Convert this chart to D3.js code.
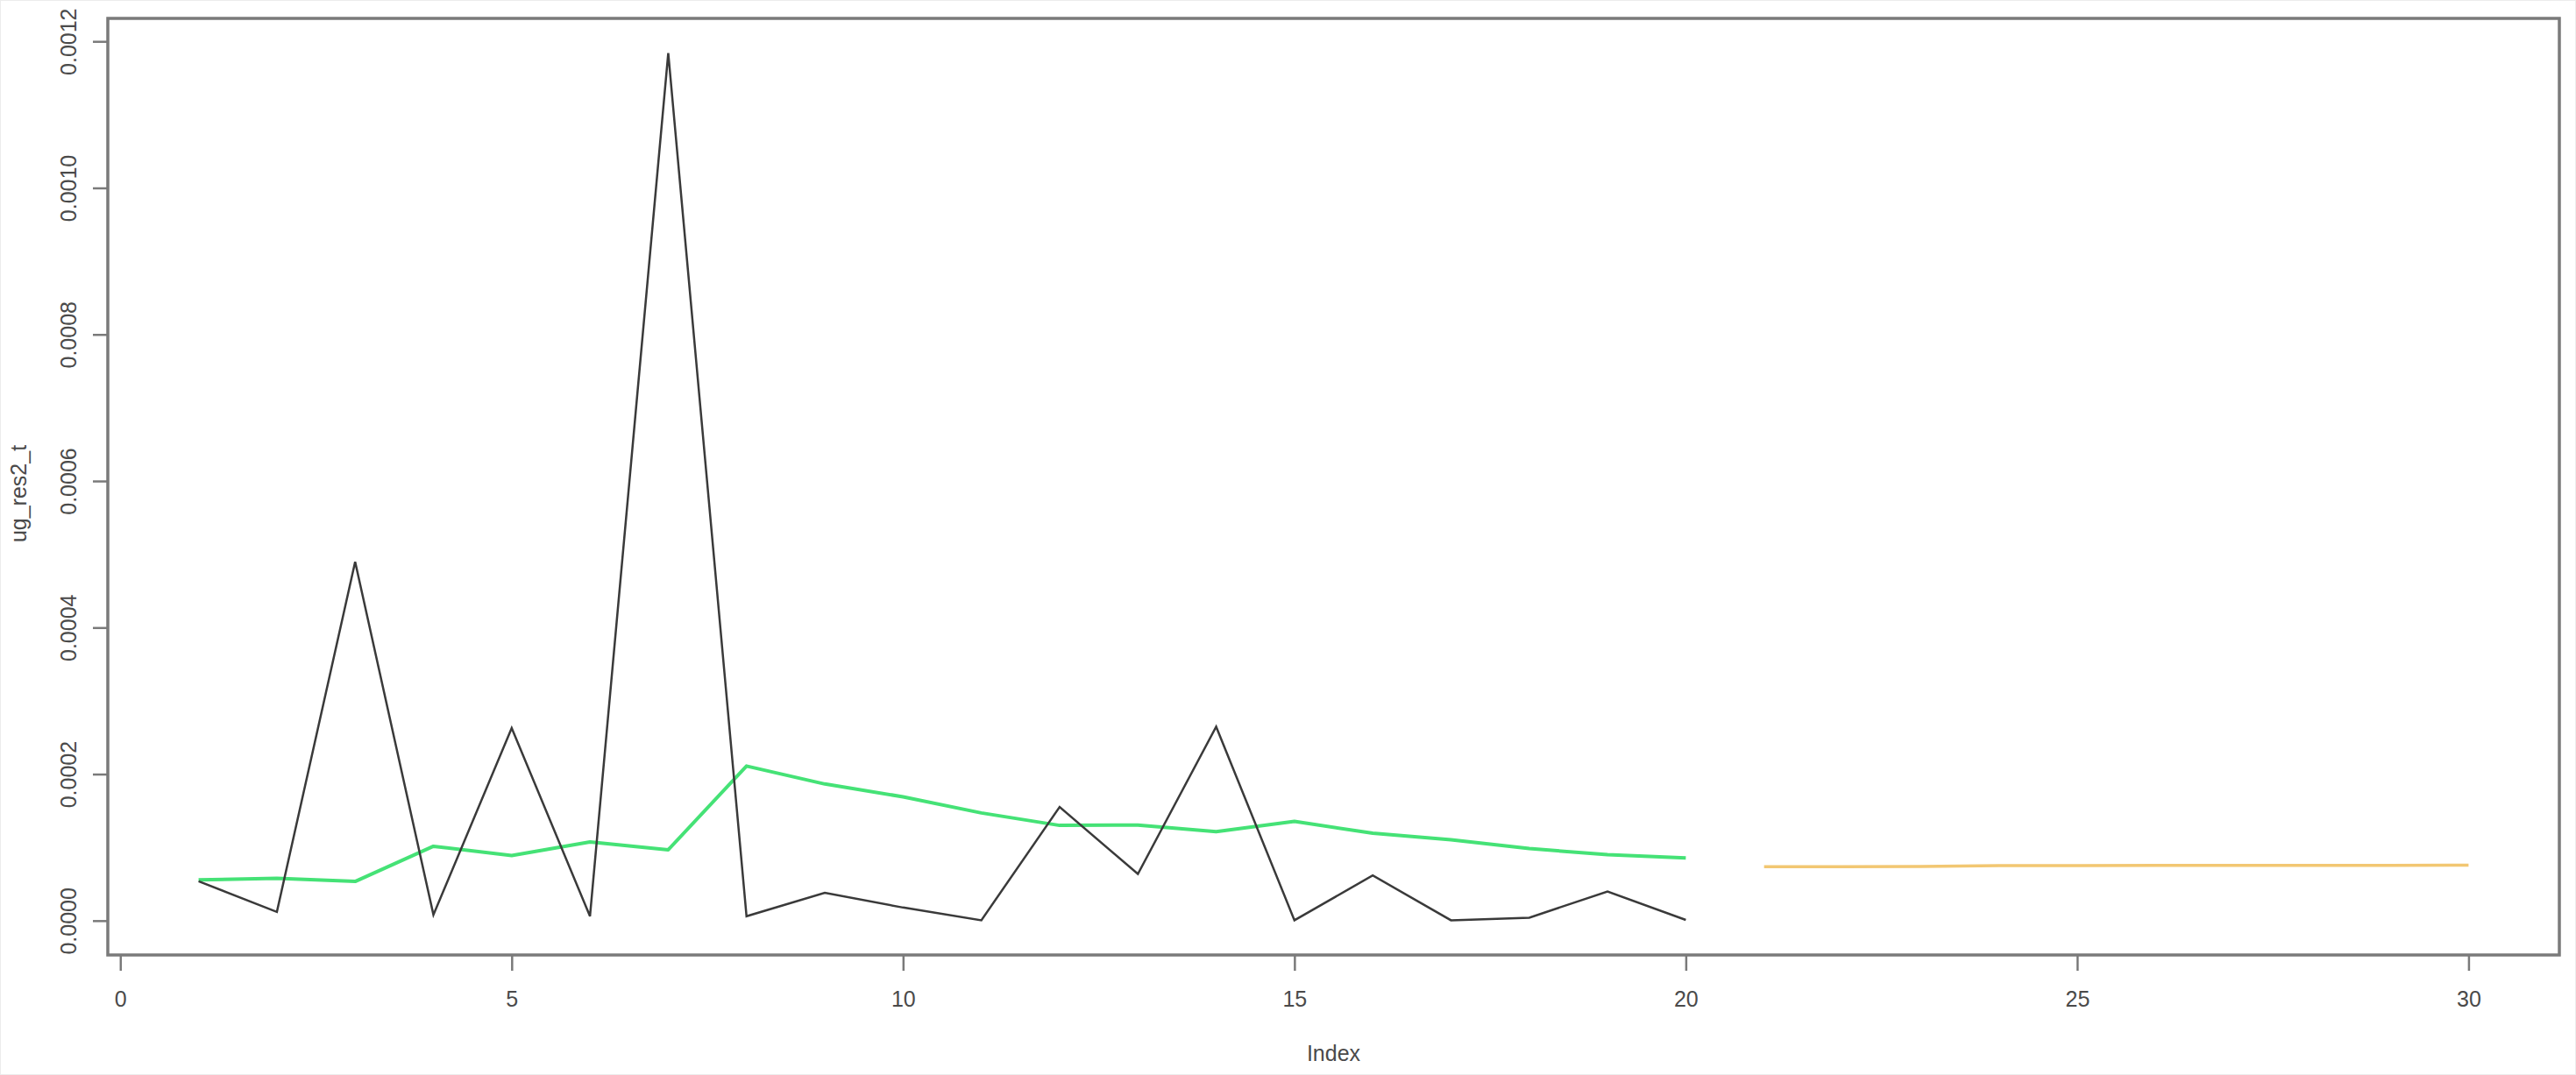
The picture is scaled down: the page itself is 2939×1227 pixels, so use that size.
<!DOCTYPE html>
<html>
<head>
<meta charset="utf-8">
<script src="https://cdn.jsdelivr.net/npm/d3@7"></script>
<style>
  body { margin: 0; background: #fff; }
  svg text { font-family: "Liberation Sans", Arial, sans-serif; }
</style>
</head>
<body>
<div id="chart"></div>
<script>
// squared residuals (black), fitted variance (green), forecast (orange)
const obsIndex = [1, 2, 3, 4, 5, 6, 7, 8, 9, 10, 11, 12, 13, 14, 15, 16, 17, 18, 19, 20];
const resid2 = [0.0000537, 0.0000119, 0.0004896, 0.0000080, 0.0002627, 0.0000060, 0.0011840, 0.0000060, 0.0000379, 0.0000179,
                0.0000005, 0.0001552, 0.0000637, 0.0002647, 0.0000005, 0.0000617, 0.0000005, 0.0000040, 0.0000399, 0.0000010];
const fittedVar = [0.0000557, 0.0000578, 0.0000535, 0.0001015, 0.0000888, 0.0001075, 0.0000967, 0.0002110, 0.0001865, 0.0001690,
                   0.0001470, 0.0001300, 0.0001305, 0.0001215, 0.0001354, 0.0001194, 0.0001103, 0.0000984, 0.0000900, 0.0000856];
const fcIndex = [21, 22, 23, 24, 25, 26, 27, 28, 29, 30];
const forecastVar = [0.0000736, 0.0000737, 0.0000739, 0.0000751, 0.0000752, 0.0000753, 0.0000754, 0.0000755, 0.0000755, 0.0000756];
const xTicks = [0, 5, 10, 15, 20, 25, 30];
const yTicks = [0, 0.0002, 0.0004, 0.0006, 0.0008, 0.0010, 0.0012];

const width = 2939;
const height = 1227;
const box = {left: 123, right: 2920, top: 21, bottom: 1090};

const svg = d3.select('#chart')
  .append('svg')
  .attr('width', width)
  .attr('height', height);

svg.append('rect')
  .attr('x', 0.5).attr('y', 0.5)
  .attr('width', width - 1).attr('height', height - 1)
  .attr('fill', '#fff')
  .attr('stroke', '#ececec');

// R style 4% padding on both axes
const xr = [1, 30];
const xpad = (xr[1] - xr[0]) * 0.04;
const x = d3.scaleLinear()
  .domain([xr[0] - xpad, xr[1] + xpad])
  .range([box.left, box.right]);

const yr = d3.extent(resid2);
const ypad = (yr[1] - yr[0]) * 0.04;
const y = d3.scaleLinear()
  .domain([yr[0] - ypad, yr[1] + ypad])
  .range([box.bottom, box.top]);

const axisColor = '#7a7a7a';
const textColor = '#4a4a4a';

// x axis
const gx = svg.append('g')
  .attr('transform', `translate(0,${box.bottom})`)
  .call(d3.axisBottom(x).tickValues(xTicks).tickSize(18).tickFormat(d3.format('d')));
gx.select('.domain').remove();
gx.selectAll('line').attr('stroke', axisColor).attr('stroke-width', 2.5);
gx.selectAll('text')
  .attr('y', 59).attr('dy', null)
  .attr('fill', textColor)
  .style('font-size', '25px');

// y axis
const gy = svg.append('g')
  .attr('transform', `translate(${box.left},0)`)
  .call(d3.axisLeft(y).tickValues(yTicks).tickSize(17).tickFormat(d3.format('.4f')));
gy.select('.domain').remove();
gy.selectAll('line').attr('stroke', axisColor).attr('stroke-width', 2.5);
gy.selectAll('text')
  .attr('transform', 'rotate(-90)')
  .attr('x', 0).attr('y', -36).attr('dy', null)
  .attr('text-anchor', 'middle')
  .attr('fill', textColor)
  .style('font-size', '25px');

// plot box
svg.append('rect')
  .attr('x', box.left).attr('y', box.top)
  .attr('width', box.right - box.left)
  .attr('height', box.bottom - box.top)
  .attr('fill', 'none')
  .attr('stroke', axisColor)
  .attr('stroke-width', 3.5);

// axis titles
svg.append('text')
  .attr('x', (box.left + box.right) / 2)
  .attr('y', 1211)
  .attr('text-anchor', 'middle')
  .attr('fill', textColor)
  .style('font-size', '25px')
  .text('Index');

svg.append('text')
  .attr('transform', `translate(30,${(box.top + box.bottom) / 2 + 8}) rotate(-90)`)
  .attr('text-anchor', 'middle')
  .attr('fill', textColor)
  .style('font-size', '25px')
  .text('ug_res2_t');

const line = d3.line()
  .x(d => x(d[0]))
  .y(d => y(d[1]));

svg.append('path')
  .datum(obsIndex.map((d, i) => [d, fittedVar[i]]))
  .attr('d', line)
  .attr('fill', 'none')
  .attr('stroke', '#45e276')
  .attr('stroke-width', 4)
  .attr('stroke-linejoin', 'round');

svg.append('path')
  .datum(obsIndex.map((d, i) => [d, resid2[i]]))
  .attr('d', line)
  .attr('fill', 'none')
  .attr('stroke', '#3a3a3a')
  .attr('stroke-width', 2.5);

svg.append('path')
  .datum(fcIndex.map((d, i) => [d, forecastVar[i]]))
  .attr('d', line)
  .attr('fill', 'none')
  .attr('stroke', '#f2c772')
  .attr('stroke-width', 3.5);
</script>
</body>
</html>
